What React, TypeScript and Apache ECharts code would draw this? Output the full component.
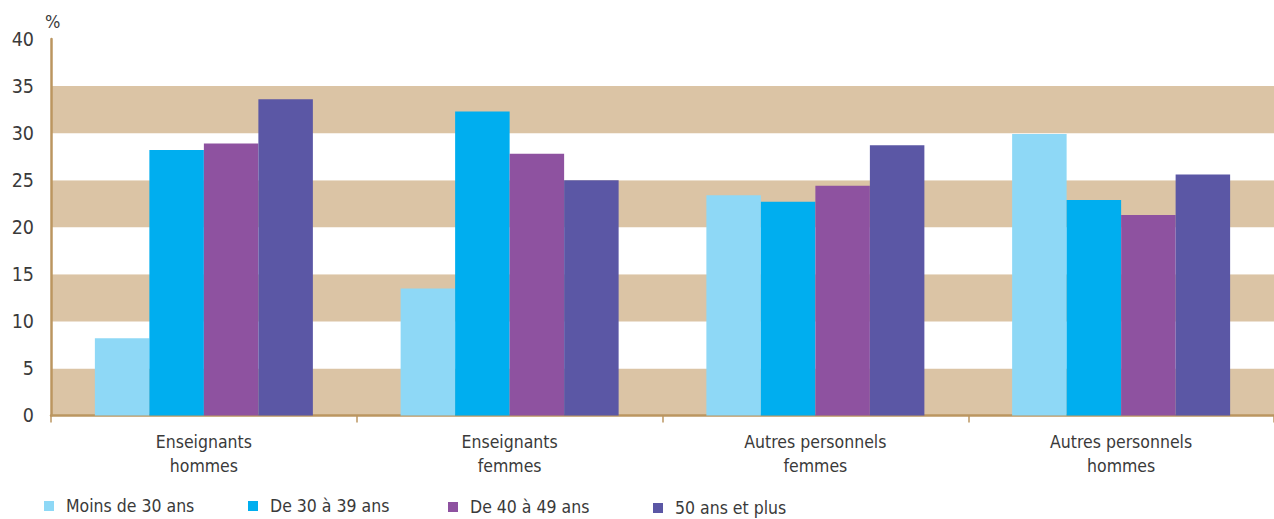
import React, { useEffect, useRef } from "react";
import * as echarts from "echarts";

const categories = [
  "Enseignants\nhommes",
  "Enseignants\nfemmes",
  "Autres personnels\nfemmes",
  "Autres personnels\nhommes",
];
const seriesNames = ["Moins de 30 ans", "De 30 à 39 ans", "De 40 à 49 ans", "50 ans et plus"];
const moins30 = [8.2, 13.5, 23.4, 29.9];
const de30a39 = [28.2, 32.3, 22.7, 22.9];
const de40a49 = [28.9, 27.8, 24.4, 21.3];
const plus50 = [33.6, 25.0, 28.7, 25.6];
const seriesValues = [moins30, de30a39, de40a49, plus50];
const colors = ["#8ed8f6", "#00aeef", "#8e52a0", "#5b57a5"];
const yTicks = { min: 0, max: 40, interval: 5 };

const FONT = '"DejaVu Sans Condensed", "Liberation Sans Narrow", sans-serif';
const AXIS_COLOR = "#bb9660";
const TEXT_COLOR = "#3a3a3a";

const legendPos = [
  { left: 44, top: 496 },
  { left: 248, top: 496 },
  { left: 448, top: 497 },
  { left: 653, top: 498 },
];

export default function App() {
  const ref = useRef<HTMLDivElement>(null);
  useEffect(() => {
    if (!ref.current) return;
    const chart = echarts.init(ref.current, null, { renderer: "svg" });
    chart.setOption({
      animation: false,
      textStyle: { fontFamily: FONT },
      grid: { left: 51, right: 0, top: 39, bottom: 103.5, containLabel: false },
      legend: seriesNames.map((n, i) => ({
        data: [n],
        left: legendPos[i].left,
        top: legendPos[i].top,
        orient: "horizontal",
        icon: "rect",
        itemWidth: 10,
        itemHeight: 10,
        selectedMode: false,
        padding: 0,
        textStyle: {
          fontFamily: FONT,
          fontSize: 17.5,
          color: TEXT_COLOR,
          lineHeight: 20,
          padding: [0, 0, 0, 7],
        },
      })),
      xAxis: {
        type: "category",
        data: categories,
        axisLine: { lineStyle: { color: AXIS_COLOR, width: 2.5 } },
        axisTick: { show: true, interval: 0, length: 7, lineStyle: { color: AXIS_COLOR, width: 1.5 } },
        axisLabel: {
          interval: 0,
          fontFamily: FONT,
          fontSize: 17.5,
          color: TEXT_COLOR,
          lineHeight: 24,
          margin: 14,
        },
        splitLine: { show: false },
      },
      yAxis: {
        type: "value",
        min: yTicks.min,
        max: yTicks.max,
        interval: yTicks.interval,
        name: "%",
        nameGap: 9,
        nameTextStyle: { fontFamily: FONT, fontSize: 18, color: TEXT_COLOR, align: "left", padding: [0, 0, 0, -6] },
        axisLine: { show: true, lineStyle: { color: AXIS_COLOR, width: 2.5 } },
        axisTick: { show: false },
        axisLabel: { fontFamily: FONT, fontSize: 19.5, color: TEXT_COLOR, margin: 17 },
        splitLine: { show: false },
        splitArea: { show: true, areaStyle: { color: ["#dbc4a5", "#ffffff"] } },
      },
      series: seriesNames.map((n, i) => ({
        name: n,
        type: "bar",
        data: seriesValues[i],
        barWidth: 54.5,
        barGap: "0%",
        itemStyle: { color: colors[i] },
      })),
    });
    return () => chart.dispose();
  }, []);
  return <div ref={ref} style={{ width: 1274, height: 519, position: "absolute", left: 0, top: 0 }} />;
}
